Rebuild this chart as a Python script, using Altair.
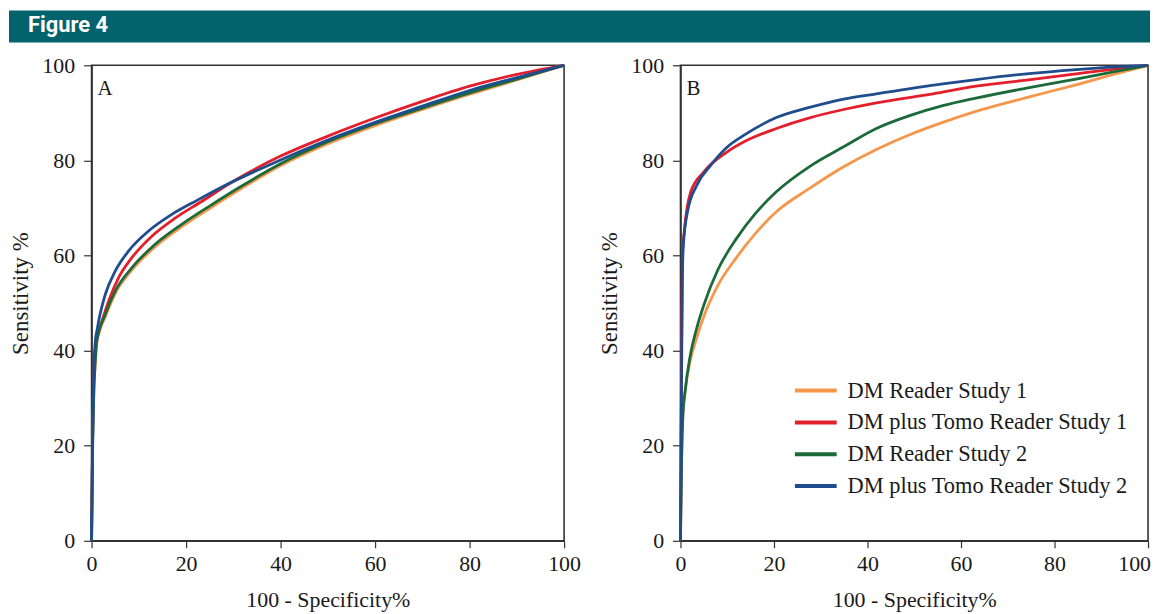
import altair as alt
import pandas as pd

SERIES = ["DM Reader Study 1", "DM plus Tomo Reader Study 1",
          "DM Reader Study 2", "DM plus Tomo Reader Study 2"]
COLORS = ["#F5964A", "#E41E2B", "#1B6B3A", "#1F4C8C"]
TICKS = [0, 20, 40, 60, 80, 100]
TEAL = "#02636C"
SERIF = "Liberation Serif"

# ---- Panel A ----
a_dm1_x = [0, 0.2, 0.5, 0.8, 1.1, 2.9, 5, 8.5, 13.4, 19, 25.3, 31.6, 40, 50, 60, 70, 80, 90, 100]
a_dm1_y = [0, 17.5, 31.5, 37.5, 41.5, 47.1, 52.0, 56.9, 61.8, 66.0, 70.1, 74.0, 78.9, 83.5, 87.3, 90.7, 93.9, 96.9, 100]
a_tomo1_x = [0, 0.2, 0.5, 0.9, 1.4, 2.2, 3.6, 5.7, 8.5, 12.7, 17.6, 23.2, 30, 40, 50, 60, 70, 80, 90, 100]
a_tomo1_y = [0, 20, 35, 41.5, 43.5, 46.2, 50.4, 55.3, 59.5, 64, 67.8, 71.3, 75.6, 80.9, 85.1, 88.9, 92.4, 95.6, 98.1, 100]
a_dm2_x = [0, 0.2, 0.5, 0.8, 1.1, 2.9, 5, 8.5, 13.4, 19, 25.3, 31.6, 40, 50, 60, 70, 80, 90, 100]
a_dm2_y = [0, 18, 32, 38, 42, 47.6, 52.5, 57.4, 62.3, 66.5, 70.6, 74.5, 79.3, 83.9, 87.7, 91.0, 94.2, 97.1, 100]
a_tomo2_x = [0, 0.2, 0.5, 0.8, 1.2, 1.5, 2.9, 5, 7.8, 12, 16.9, 22.5, 27.4, 40, 50, 60, 70, 80, 90, 100]
a_tomo2_y = [0, 20, 36, 42, 44.5, 46.2, 51.8, 56.7, 60.9, 65.1, 68.6, 71.7, 74.3, 80.1, 84.3, 88.0, 91.4, 94.7, 97.4, 100]

# ---- Panel B ----
b_dm1_x = [0, 0.2, 0.5, 1, 2, 3.5, 5, 8, 12, 16, 20.5, 27.6, 34.8, 41.9, 49, 56.1, 63.2, 74, 84.6, 92, 100]
b_dm1_y = [0, 15, 26, 31.5, 37.5, 42.8, 47.2, 53.7, 59.6, 64.6, 69.2, 74.1, 78.6, 82.3, 85.4, 88.0, 90.3, 93.2, 95.9, 97.9, 100]
b_tomo1_x = [0, 0.2, 0.4, 0.8, 2.2, 5, 10, 13.6, 20.5, 27.8, 34.9, 41.9, 54, 63.2, 74, 84.6, 92, 100]
b_tomo1_y = [0, 35, 60, 65, 73.4, 77.6, 81.8, 83.9, 86.7, 89, 90.7, 92.1, 94, 95.6, 96.9, 98.2, 99.1, 100]
b_dm2_x = [0, 0.2, 0.5, 1, 2, 3.5, 5, 8, 12, 16, 20.5, 27.6, 34.8, 41.9, 49, 56.1, 63.2, 74, 84.6, 92, 100]
b_dm2_y = [0, 15, 26, 31.5, 38.5, 44.8, 49.6, 57.0, 63.6, 68.8, 73.4, 78.7, 82.8, 86.7, 89.4, 91.5, 93.1, 95.2, 97.1, 98.5, 100]
b_tomo2_x = [0, 0.2, 0.4, 0.6, 1.5, 3.5, 6.5, 10, 13.6, 20.5, 27.8, 34.9, 41.9, 56.1, 63.3, 74, 84.6, 92, 100]
b_tomo2_y = [0, 30, 55, 62, 69.2, 74.8, 79, 82.8, 85.3, 89, 91.2, 92.9, 94.0, 96.1, 97.0, 98.2, 99.1, 99.6, 100]


def frame(curves):
    rows = []
    for name, (xs, ys) in zip(SERIES, curves):
        for x, y in zip(xs, ys):
            rows.append({"series": name, "fpr": x, "tpr": y})
    return pd.DataFrame(rows)


df_a = frame([(a_dm1_x, a_dm1_y), (a_tomo1_x, a_tomo1_y), (a_dm2_x, a_dm2_y), (a_tomo2_x, a_tomo2_y)])
df_b = frame([(b_dm1_x, b_dm1_y), (b_tomo1_x, b_tomo1_y), (b_dm2_x, b_dm2_y), (b_tomo2_x, b_tomo2_y)])


def panel(df, letter, legend, width, xaxis):
    yaxis = alt.Axis(values=TICKS, title="Sensitivity %", tickSize=8, labelPadding=9,
                     titlePadding=9, titleFontSize=23, labelFlush=False, titleY=229)
    layers = []
    for s in SERIES:
        layers.append(
            alt.Chart(df).transform_filter(alt.datum.series == s)
            .mark_line(strokeWidth=2.8, interpolate="monotone")
            .encode(
                x=alt.X("fpr:Q", scale=alt.Scale(domain=[0, 100], nice=False), axis=xaxis),
                y=alt.Y("tpr:Q", scale=alt.Scale(domain=[0, 100], nice=False), axis=yaxis),
                color=alt.Color("series:N", scale=alt.Scale(domain=SERIES, range=COLORS),
                                sort=SERIES, legend=legend, title=None),
            )
        )
    lab = alt.Chart(pd.DataFrame({"t": [letter]})).mark_text(
        font=SERIF, fontSize=21, color="#1a1a1a", align="left", baseline="alphabetic"
    ).encode(text="t:N", x=alt.value(6), y=alt.value(30))
    layers.append(lab)
    return alt.layer(*layers).properties(width=width, height=478)


xaxis_a = alt.Axis(values=TICKS, title="100 - Specificity%", tickSize=7, labelPadding=6,
                   titlePadding=15, titleFontSize=22, labelFlush=False)
xaxis_b = alt.Axis(values=TICKS, title="100 - Specificity%", tickSize=7, labelPadding=6,
                   titlePadding=15, titleFontSize=22, labelFlush=False,
                   labelOffset={"condition": {"test": "datum.value == 100", "value": -14}, "value": 0})

legend_b = alt.Legend(
    orient="none", legendX=120, legendY=311, symbolType="M-1.5,0H1.5", symbolSize=784,
    symbolStrokeWidth=4, symbolFillColor="transparent", labelFont=SERIF, labelFontSize=22.5,
    labelColor="#1a1a1a", labelOffset=16, rowPadding=4, padding=0, labelLimit=400,
)

header_rect = alt.Chart(pd.DataFrame({"h": [0]})).mark_rect(color=TEAL).encode(
    x=alt.value(-83), x2=alt.value(1064), y=alt.value(-55), y2=alt.value(-23)
)
header_text = alt.Chart(pd.DataFrame({"t": ["Figure 4"]})).mark_text(
    font="Roboto, 'Liberation Sans', sans-serif", fontWeight="bold", fontSize=22, color="white",
    align="left", baseline="alphabetic"
).encode(text="t:N", x=alt.value(-64), y=alt.value(-33))

panel_a = alt.layer(header_rect, header_text, panel(df_a, "A", None, 475, xaxis_a))
panel_b = panel(df_b, "B", legend_b, 470, xaxis_b)

chart = (
    alt.hconcat(panel_a, panel_b, spacing=117, bounds="flush")
    .resolve_scale(color="independent")
    .properties(padding={"left": 0, "top": 0, "right": 0, "bottom": 0})
    .configure_view(stroke="#333", strokeWidth=1.6)
    .configure_axis(
        labelFont=SERIF, labelFontSize=22, labelColor="#1a1a1a",
        titleFont=SERIF, titleFontSize=22, titleFontWeight="normal", titleColor="#1a1a1a",
        tickColor="#333", domainColor="#333", domainWidth=1.6, tickWidth=1.2, grid=False,
    )
)

chart.save("out.html", embed_options={"renderer": "svg", "actions": False})
